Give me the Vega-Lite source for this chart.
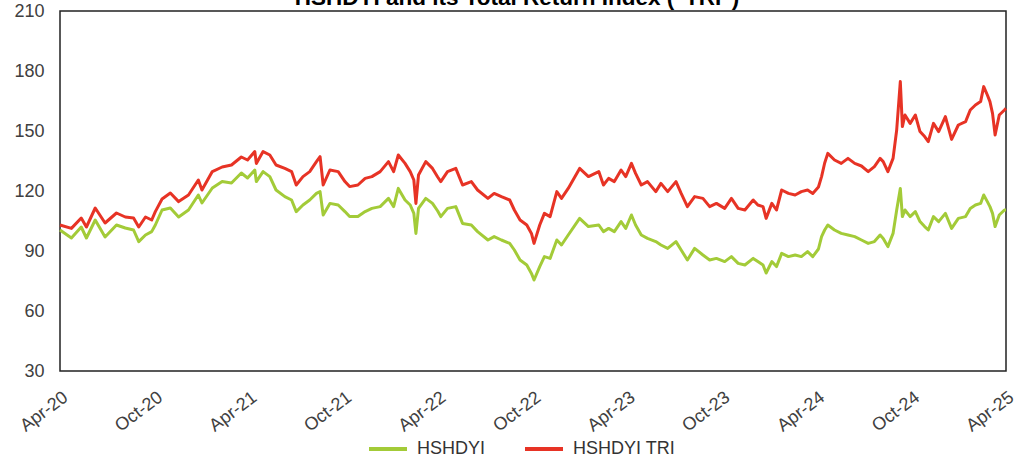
{
  "$schema": "https://vega.github.io/schema/vega-lite/v6.json",
  "width": 946,
  "height": 360,
  "autosize": {"type": "none"},
  "padding": {"left": 60, "top": 11, "right": 16, "bottom": 86},
  "background": "white",
  "title": {
    "text": "HSHDYI and its Total Return Index (\"TRI\")",
    "font": "Liberation Sans",
    "fontSize": 22.5,
    "fontWeight": "bold",
    "color": "#000000",
    "anchor": "middle",
    "frame": "group",
    "baseline": "alphabetic",
    "offset": -25,
    "dx": -16
  },
  "config": {
    "view": {"stroke": "#222222", "strokeWidth": 1.5},
    "font": "Liberation Sans",
    "axis": {
      "domain": false,
      "ticks": false,
      "grid": false,
      "labelFont": "Liberation Sans",
      "labelFontSize": 18,
      "labelColor": "#404040",
      "title": null
    },
    "legend": {
      "labelFont": "Liberation Sans",
      "labelFontSize": 18,
      "labelColor": "#333333",
      "symbolType": "stroke",
      "symbolSize": 1444,
      "symbolStrokeWidth": 4,
      "labelOffset": 8,
      "columnPadding": 31
    }
  },
  "data": {
    "values": [
      {"d": "2020-04-01", "HSHDYI": 100.5, "HSHDYI TRI": 103},
      {"d": "2020-04-23", "HSHDYI": 96.5, "HSHDYI TRI": 101.3},
      {"d": "2020-05-12", "HSHDYI": 102, "HSHDYI TRI": 106.5},
      {"d": "2020-05-22", "HSHDYI": 96.5, "HSHDYI TRI": 102},
      {"d": "2020-06-08", "HSHDYI": 105.5, "HSHDYI TRI": 111.5},
      {"d": "2020-06-27", "HSHDYI": 97, "HSHDYI TRI": 104},
      {"d": "2020-07-19", "HSHDYI": 103, "HSHDYI TRI": 109},
      {"d": "2020-08-05", "HSHDYI": 101.5, "HSHDYI TRI": 107},
      {"d": "2020-08-21", "HSHDYI": 100.5, "HSHDYI TRI": 106.5},
      {"d": "2020-08-31", "HSHDYI": 94.7, "HSHDYI TRI": 102},
      {"d": "2020-09-13", "HSHDYI": 98, "HSHDYI TRI": 107},
      {"d": "2020-09-25", "HSHDYI": 99.7, "HSHDYI TRI": 105.5},
      {"d": "2020-10-02", "HSHDYI": 103, "HSHDYI TRI": 109.7},
      {"d": "2020-10-15", "HSHDYI": 110.5, "HSHDYI TRI": 116},
      {"d": "2020-10-31", "HSHDYI": 111.5, "HSHDYI TRI": 119},
      {"d": "2020-11-16", "HSHDYI": 107, "HSHDYI TRI": 114.7},
      {"d": "2020-12-05", "HSHDYI": 110.5, "HSHDYI TRI": 118},
      {"d": "2020-12-24", "HSHDYI": 118, "HSHDYI TRI": 125.5},
      {"d": "2020-12-31", "HSHDYI": 114, "HSHDYI TRI": 120.5},
      {"d": "2021-01-20", "HSHDYI": 121.5, "HSHDYI TRI": 129.7},
      {"d": "2021-02-08", "HSHDYI": 124.7, "HSHDYI TRI": 132},
      {"d": "2021-02-26", "HSHDYI": 124, "HSHDYI TRI": 133},
      {"d": "2021-03-17", "HSHDYI": 129, "HSHDYI TRI": 137},
      {"d": "2021-03-29", "HSHDYI": 126.5, "HSHDYI TRI": 135.5},
      {"d": "2021-04-12", "HSHDYI": 130.5, "HSHDYI TRI": 139.7},
      {"d": "2021-04-15", "HSHDYI": 124.7, "HSHDYI TRI": 133.8},
      {"d": "2021-04-28", "HSHDYI": 129.7, "HSHDYI TRI": 139.7},
      {"d": "2021-05-11", "HSHDYI": 127.2, "HSHDYI TRI": 138},
      {"d": "2021-05-23", "HSHDYI": 120.5, "HSHDYI TRI": 133},
      {"d": "2021-06-09", "HSHDYI": 117.2, "HSHDYI TRI": 131.3},
      {"d": "2021-06-22", "HSHDYI": 115.5, "HSHDYI TRI": 129.7},
      {"d": "2021-07-01", "HSHDYI": 109.7, "HSHDYI TRI": 123},
      {"d": "2021-07-14", "HSHDYI": 113, "HSHDYI TRI": 127.2},
      {"d": "2021-07-27", "HSHDYI": 115.5, "HSHDYI TRI": 129.7},
      {"d": "2021-08-09", "HSHDYI": 118.8, "HSHDYI TRI": 134.7},
      {"d": "2021-08-16", "HSHDYI": 119.7, "HSHDYI TRI": 137.2},
      {"d": "2021-08-22", "HSHDYI": 108, "HSHDYI TRI": 123},
      {"d": "2021-09-04", "HSHDYI": 113.8, "HSHDYI TRI": 130.5},
      {"d": "2021-09-20", "HSHDYI": 113, "HSHDYI TRI": 129.7},
      {"d": "2021-10-03", "HSHDYI": 109.7, "HSHDYI TRI": 124.7},
      {"d": "2021-10-12", "HSHDYI": 107.2, "HSHDYI TRI": 122.2},
      {"d": "2021-10-28", "HSHDYI": 107.2, "HSHDYI TRI": 123},
      {"d": "2021-11-11", "HSHDYI": 109.7, "HSHDYI TRI": 126.3},
      {"d": "2021-11-24", "HSHDYI": 111.3, "HSHDYI TRI": 127.2},
      {"d": "2021-12-10", "HSHDYI": 112.2, "HSHDYI TRI": 129.7},
      {"d": "2021-12-26", "HSHDYI": 116.3, "HSHDYI TRI": 134.7},
      {"d": "2022-01-05", "HSHDYI": 112.2, "HSHDYI TRI": 129.7},
      {"d": "2022-01-14", "HSHDYI": 121.3, "HSHDYI TRI": 138},
      {"d": "2022-01-27", "HSHDYI": 115.5, "HSHDYI TRI": 133.8},
      {"d": "2022-02-06", "HSHDYI": 113, "HSHDYI TRI": 129.7},
      {"d": "2022-02-13", "HSHDYI": 108.8, "HSHDYI TRI": 125.5},
      {"d": "2022-02-17", "HSHDYI": 98.8, "HSHDYI TRI": 113.8},
      {"d": "2022-02-22", "HSHDYI": 111.3, "HSHDYI TRI": 128},
      {"d": "2022-03-08", "HSHDYI": 116.3, "HSHDYI TRI": 134.7},
      {"d": "2022-03-21", "HSHDYI": 113.8, "HSHDYI TRI": 131.3},
      {"d": "2022-03-31", "HSHDYI": 110, "HSHDYI TRI": 127},
      {"d": "2022-04-06", "HSHDYI": 107.2, "HSHDYI TRI": 124.7},
      {"d": "2022-04-19", "HSHDYI": 111.3, "HSHDYI TRI": 129.7},
      {"d": "2022-05-05", "HSHDYI": 112.2, "HSHDYI TRI": 131.3},
      {"d": "2022-05-18", "HSHDYI": 103.8, "HSHDYI TRI": 123},
      {"d": "2022-06-04", "HSHDYI": 103, "HSHDYI TRI": 124.7},
      {"d": "2022-06-16", "HSHDYI": 99.7, "HSHDYI TRI": 120.5},
      {"d": "2022-07-06", "HSHDYI": 95.5, "HSHDYI TRI": 116.3},
      {"d": "2022-07-18", "HSHDYI": 97.2, "HSHDYI TRI": 118.8},
      {"d": "2022-08-01", "HSHDYI": 95.5, "HSHDYI TRI": 117.2},
      {"d": "2022-08-17", "HSHDYI": 93.8, "HSHDYI TRI": 115.5},
      {"d": "2022-08-26", "HSHDYI": 90.5, "HSHDYI TRI": 110.5},
      {"d": "2022-09-06", "HSHDYI": 85.5, "HSHDYI TRI": 105.5},
      {"d": "2022-09-19", "HSHDYI": 83, "HSHDYI TRI": 103},
      {"d": "2022-09-28", "HSHDYI": 78.8, "HSHDYI TRI": 98.8},
      {"d": "2022-10-03", "HSHDYI": 75.5, "HSHDYI TRI": 93.8},
      {"d": "2022-10-14", "HSHDYI": 82.2, "HSHDYI TRI": 103},
      {"d": "2022-10-23", "HSHDYI": 87.2, "HSHDYI TRI": 108.8},
      {"d": "2022-11-03", "HSHDYI": 86.3, "HSHDYI TRI": 107.2},
      {"d": "2022-11-16", "HSHDYI": 95.5, "HSHDYI TRI": 119.7},
      {"d": "2022-11-25", "HSHDYI": 93, "HSHDYI TRI": 116.3},
      {"d": "2022-12-08", "HSHDYI": 98, "HSHDYI TRI": 121.3},
      {"d": "2022-12-30", "HSHDYI": 106.3, "HSHDYI TRI": 131.3},
      {"d": "2023-01-16", "HSHDYI": 102.2, "HSHDYI TRI": 127.2},
      {"d": "2023-02-05", "HSHDYI": 103, "HSHDYI TRI": 129.7},
      {"d": "2023-02-14", "HSHDYI": 99.7, "HSHDYI TRI": 123},
      {"d": "2023-02-24", "HSHDYI": 101.3, "HSHDYI TRI": 126.3},
      {"d": "2023-03-07", "HSHDYI": 99.7, "HSHDYI TRI": 124.7},
      {"d": "2023-03-20", "HSHDYI": 104.7, "HSHDYI TRI": 130.5},
      {"d": "2023-03-29", "HSHDYI": 101.3, "HSHDYI TRI": 127.2},
      {"d": "2023-04-09", "HSHDYI": 108, "HSHDYI TRI": 133.8},
      {"d": "2023-04-17", "HSHDYI": 103, "HSHDYI TRI": 128.8},
      {"d": "2023-04-28", "HSHDYI": 98, "HSHDYI TRI": 123},
      {"d": "2023-05-10", "HSHDYI": 96.3, "HSHDYI TRI": 124.7},
      {"d": "2023-05-26", "HSHDYI": 94.7, "HSHDYI TRI": 119.7},
      {"d": "2023-06-05", "HSHDYI": 93, "HSHDYI TRI": 123.8},
      {"d": "2023-06-18", "HSHDYI": 91.3, "HSHDYI TRI": 119.7},
      {"d": "2023-07-04", "HSHDYI": 94.7, "HSHDYI TRI": 124.7},
      {"d": "2023-07-14", "HSHDYI": 90.5, "HSHDYI TRI": 118.8},
      {"d": "2023-07-26", "HSHDYI": 85.5, "HSHDYI TRI": 112.2},
      {"d": "2023-08-09", "HSHDYI": 91.3, "HSHDYI TRI": 117.2},
      {"d": "2023-08-25", "HSHDYI": 88, "HSHDYI TRI": 116.3},
      {"d": "2023-09-07", "HSHDYI": 85.5, "HSHDYI TRI": 112.2},
      {"d": "2023-09-20", "HSHDYI": 86.3, "HSHDYI TRI": 113.8},
      {"d": "2023-10-06", "HSHDYI": 84.7, "HSHDYI TRI": 111.3},
      {"d": "2023-10-19", "HSHDYI": 87.2, "HSHDYI TRI": 116.3},
      {"d": "2023-11-01", "HSHDYI": 83.8, "HSHDYI TRI": 111.3},
      {"d": "2023-11-14", "HSHDYI": 83, "HSHDYI TRI": 110.5},
      {"d": "2023-11-30", "HSHDYI": 86.3, "HSHDYI TRI": 115.5},
      {"d": "2023-12-09", "HSHDYI": 84.7, "HSHDYI TRI": 113},
      {"d": "2023-12-19", "HSHDYI": 83, "HSHDYI TRI": 112.2},
      {"d": "2023-12-25", "HSHDYI": 79, "HSHDYI TRI": 106.3},
      {"d": "2024-01-05", "HSHDYI": 84.7, "HSHDYI TRI": 113.8},
      {"d": "2024-01-14", "HSHDYI": 82.2, "HSHDYI TRI": 110.5},
      {"d": "2024-01-24", "HSHDYI": 88.8, "HSHDYI TRI": 120.5},
      {"d": "2024-02-06", "HSHDYI": 87.2, "HSHDYI TRI": 118.8},
      {"d": "2024-02-19", "HSHDYI": 88, "HSHDYI TRI": 118},
      {"d": "2024-03-02", "HSHDYI": 87.2, "HSHDYI TRI": 119.7},
      {"d": "2024-03-14", "HSHDYI": 89.7, "HSHDYI TRI": 120.5},
      {"d": "2024-03-24", "HSHDYI": 87.2, "HSHDYI TRI": 118.8},
      {"d": "2024-04-04", "HSHDYI": 91, "HSHDYI TRI": 122},
      {"d": "2024-04-10", "HSHDYI": 97.2, "HSHDYI TRI": 127.2},
      {"d": "2024-04-16", "HSHDYI": 100.5, "HSHDYI TRI": 134},
      {"d": "2024-04-22", "HSHDYI": 103, "HSHDYI TRI": 138.8},
      {"d": "2024-05-05", "HSHDYI": 100.5, "HSHDYI TRI": 135.5},
      {"d": "2024-05-18", "HSHDYI": 98.8, "HSHDYI TRI": 133.8},
      {"d": "2024-05-31", "HSHDYI": 98, "HSHDYI TRI": 136.3},
      {"d": "2024-06-13", "HSHDYI": 97.2, "HSHDYI TRI": 133.8},
      {"d": "2024-06-26", "HSHDYI": 95.5, "HSHDYI TRI": 132.5},
      {"d": "2024-07-09", "HSHDYI": 93.8, "HSHDYI TRI": 129.7},
      {"d": "2024-07-21", "HSHDYI": 94.7, "HSHDYI TRI": 132.2},
      {"d": "2024-08-01", "HSHDYI": 98, "HSHDYI TRI": 136.3},
      {"d": "2024-08-07", "HSHDYI": 96.3, "HSHDYI TRI": 134.7},
      {"d": "2024-08-16", "HSHDYI": 92.2, "HSHDYI TRI": 129.7},
      {"d": "2024-08-26", "HSHDYI": 98.8, "HSHDYI TRI": 136.3},
      {"d": "2024-09-02", "HSHDYI": 110.5, "HSHDYI TRI": 150.5},
      {"d": "2024-09-09", "HSHDYI": 121.3, "HSHDYI TRI": 174.7},
      {"d": "2024-09-13", "HSHDYI": 107.2, "HSHDYI TRI": 152.2},
      {"d": "2024-09-18", "HSHDYI": 110.5, "HSHDYI TRI": 158},
      {"d": "2024-09-28", "HSHDYI": 107.2, "HSHDYI TRI": 153.8},
      {"d": "2024-10-08", "HSHDYI": 109.7, "HSHDYI TRI": 158},
      {"d": "2024-10-17", "HSHDYI": 104.7, "HSHDYI TRI": 149.7},
      {"d": "2024-10-26", "HSHDYI": 102.2, "HSHDYI TRI": 147.2},
      {"d": "2024-11-02", "HSHDYI": 100.5, "HSHDYI TRI": 144.7},
      {"d": "2024-11-12", "HSHDYI": 107.2, "HSHDYI TRI": 153.8},
      {"d": "2024-11-22", "HSHDYI": 104.7, "HSHDYI TRI": 149.7},
      {"d": "2024-12-05", "HSHDYI": 108.8, "HSHDYI TRI": 157.2},
      {"d": "2024-12-17", "HSHDYI": 101.3, "HSHDYI TRI": 145.8},
      {"d": "2024-12-30", "HSHDYI": 106.3, "HSHDYI TRI": 153},
      {"d": "2025-01-13", "HSHDYI": 107.2, "HSHDYI TRI": 154.7},
      {"d": "2025-01-22", "HSHDYI": 111.3, "HSHDYI TRI": 160.5},
      {"d": "2025-02-01", "HSHDYI": 113, "HSHDYI TRI": 163},
      {"d": "2025-02-11", "HSHDYI": 113.8, "HSHDYI TRI": 164.7},
      {"d": "2025-02-17", "HSHDYI": 118, "HSHDYI TRI": 172.2},
      {"d": "2025-02-24", "HSHDYI": 114.7, "HSHDYI TRI": 168},
      {"d": "2025-03-01", "HSHDYI": 112.2, "HSHDYI TRI": 164.7},
      {"d": "2025-03-06", "HSHDYI": 108.8, "HSHDYI TRI": 158.8},
      {"d": "2025-03-11", "HSHDYI": 102.2, "HSHDYI TRI": 148},
      {"d": "2025-03-19", "HSHDYI": 108, "HSHDYI TRI": 158},
      {"d": "2025-03-29", "HSHDYI": 110.5, "HSHDYI TRI": 160.5},
      {"d": "2025-04-01", "HSHDYI": 110.5, "HSHDYI TRI": 161.3}
    ]
  },
  "transform": [
    {"fold": ["HSHDYI", "HSHDYI TRI"], "as": ["series", "value"]}
  ],
  "mark": {"type": "line", "strokeWidth": 3, "strokeJoin": "round"},
  "encoding": {
    "x": {
      "field": "d",
      "type": "temporal",
      "scale": {
        "type": "utc",
        "domain": [
          {"year": 2020, "month": 4, "date": 1, "utc": true},
          {"year": 2025, "month": 4, "date": 1, "utc": true}
        ]
      },
      "axis": {
        "values": [
          {"year": 2020, "month": 4, "date": 1, "utc": true},
          {"year": 2020, "month": 10, "date": 1, "utc": true},
          {"year": 2021, "month": 4, "date": 1, "utc": true},
          {"year": 2021, "month": 10, "date": 1, "utc": true},
          {"year": 2022, "month": 4, "date": 1, "utc": true},
          {"year": 2022, "month": 10, "date": 1, "utc": true},
          {"year": 2023, "month": 4, "date": 1, "utc": true},
          {"year": 2023, "month": 10, "date": 1, "utc": true},
          {"year": 2024, "month": 4, "date": 1, "utc": true},
          {"year": 2024, "month": 10, "date": 1, "utc": true},
          {"year": 2025, "month": 4, "date": 1, "utc": true}
        ],
        "labelExpr": "utcFormat(datum.value, '%b-%y')",
        "labelAngle": -37,
        "labelAlign": "right",
        "labelBaseline": "top",
        "labelPadding": 17,
        "labelOverlap": false,
        "labelBound": false,
        "labelFlush": false
      }
    },
    "y": {
      "field": "value",
      "type": "quantitative",
      "scale": {"domain": [30, 210], "nice": false, "zero": false},
      "axis": {
        "values": [30, 60, 90, 120, 150, 180, 210],
        "labelPadding": 16
      }
    },
    "color": {
      "field": "series",
      "type": "nominal",
      "scale": {"domain": ["HSHDYI", "HSHDYI TRI"], "range": ["#A3CB38", "#E73325"]},
      "legend": {
        "title": null,
        "orient": "none",
        "direction": "horizontal",
        "legendX": 307,
        "legendY": 417
      }
    }
  }
}
